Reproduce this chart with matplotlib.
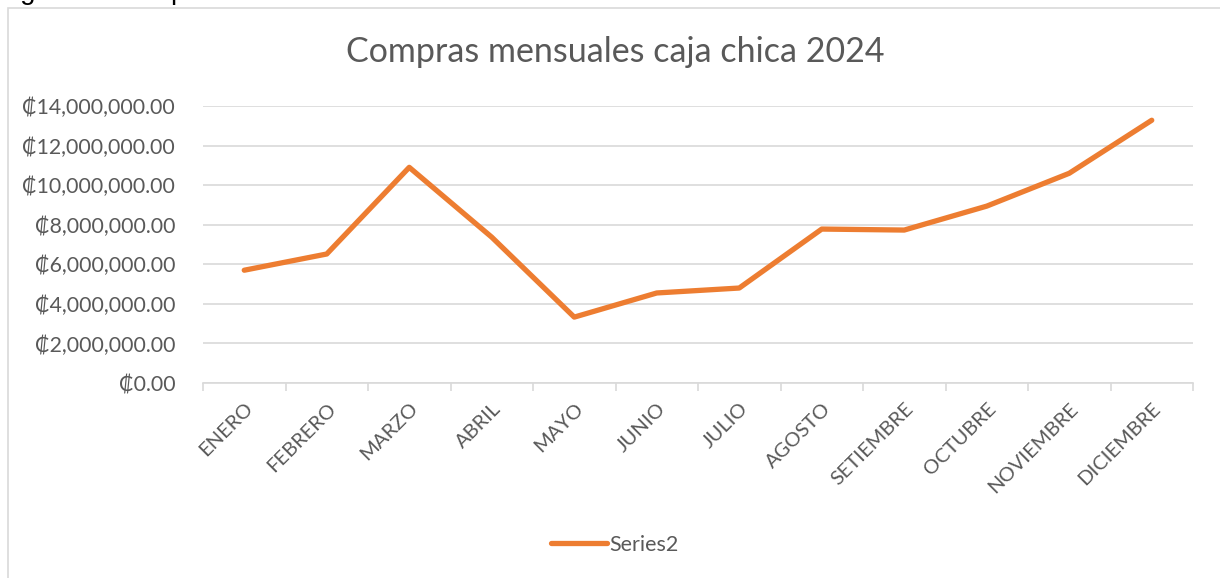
import matplotlib.pyplot as plt
from matplotlib.patches import Rectangle
from matplotlib.ticker import FuncFormatter, MultipleLocator

# --- DATA ---
meses = ["ENERO", "FEBRERO", "MARZO", "ABRIL", "MAYO", "JUNIO", "JULIO",
         "AGOSTO", "SETIEMBRE", "OCTUBRE", "NOVIEMBRE", "DICIEMBRE"]
compras = [5700000, 6520000, 10900000, 7370000, 3330000, 4550000, 4800000,
           7780000, 7730000, 8940000, 10600000, 13280000]
serie = "Series2"
titulo = "Compras mensuales caja chica 2024"

# --- STYLE ---
plt.rcParams['font.family'] = ['Lato', 'DejaVu Sans']
GRAY = "#595959"
GRID = "#D9D9D9"
ORANGE = "#ED7D31"

W, H = 1220, 578
fig = plt.figure(figsize=(W / 100, H / 100), dpi=100)

# text of the page above the chart, mostly cut off
fig.text(0.0, 1.0 + 1 / H, "siguiente comportamiento durante el año en análisis",
         fontsize=20, color="black", ha="left", va="baseline",
         family=['Liberation Sans'])

# chart frame
fig.patches.append(Rectangle((8 / W, -0.1), 1.2, 1 - 8 / H + 0.1,
                             transform=fig.transFigure, facecolor="white",
                             edgecolor=GRID, linewidth=1.2, zorder=-1))

ax = fig.add_axes([203 / W, (H - 383) / H, (1193 - 203) / W, (383 - 106) / H])
ax.set_facecolor("none")
ax.set_zorder(2)

x = list(range(len(meses)))
ax.plot(x, compras, color=ORANGE, linewidth=3.8, solid_capstyle="round",
        solid_joinstyle="round", label=serie, zorder=3)

ax.set_xlim(-0.5, len(meses) - 0.5)
ax.set_ylim(0, 14000000)
ax.yaxis.set_major_locator(MultipleLocator(2000000))
ax.yaxis.set_major_formatter(FuncFormatter(lambda v, p: f"₡{v:,.2f}"))
ax.grid(axis="y", color=GRID, linewidth=1.2)
ax.set_axisbelow(True)

for s in ["top", "right", "left"]:
    ax.spines[s].set_visible(False)
ax.spines["bottom"].set_color(GRID)
ax.spines["bottom"].set_linewidth(1.2)

ax.set_xticks(x)
ax.set_xticklabels(meses, rotation=45, ha="right", rotation_mode="anchor",
                   fontsize=14.5, color=GRAY)
ax.tick_params(axis="x", length=0, pad=12)
ax.set_xticks([i - 0.5 for i in range(len(meses) + 1)], minor=True)
ax.tick_params(axis="x", which="minor", length=6, color=GRID, width=1.2)
ax.tick_params(axis="y", length=0, pad=20, labelsize=15.3, labelcolor=GRAY)

fig.text(615 / W, 1 - 52 / H, titulo, ha="center", va="center",
         fontsize=24.5, color=GRAY, zorder=3)

leg = fig.legend(loc="center", bbox_to_anchor=(615 / W, 1 - 545 / H),
                 frameon=False, fontsize=15.5, labelcolor=GRAY,
                 handlelength=2.6, handletextpad=0.1)
leg.set_zorder(3)

fig.savefig("out.png", dpi=100)
